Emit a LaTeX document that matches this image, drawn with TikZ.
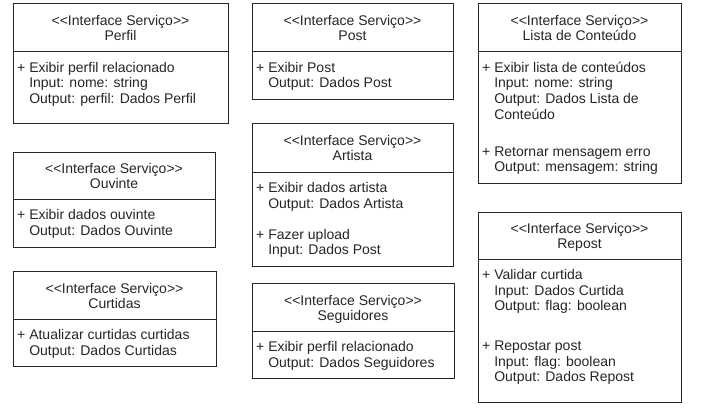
\documentclass[tikz,border=0pt]{standalone}
\usepackage{fontspec}
\setmainfont{Liberation Sans}
\newcommand\ltch{\mbox{<}}
\newcommand\gtch{\mbox{>}}
\newcommand\stereo{\ltch\ltch Interface Serviço\gtch\gtch}
\newcommand\ct{\hphantom{+ }}
\tikzset{
  panel/.style={draw=black!85, line width=1pt, anchor=north west, inner sep=0pt, outer sep=0pt},
  ttl/.style={anchor=base, inner sep=0pt, text=black!85, font=\fontsize{14}{16}\selectfont},
  bodytxt/.style={anchor=base west, inner sep=0pt, text=black!85, font=\fontsize{14}{16}\selectfont}
}
% #1 name, #2 L, #3 T, #4 R, #5 D (divider), #6 B, #7 title
\newcommand\ifbox[7]{%
  \node[panel, minimum width={#4-#2}, minimum height={#5-#3}] (#1h) at (#2,#3) {};
  \node[panel, minimum width={#4-#2}, minimum height={#6-#5}] (#1b) at (#2,#5) {};
  \node[ttl] (#1s) at ([yshift=2pt]#1h.center) {\stereo};
  \node[ttl] (#1n) at ([yshift=-13pt]#1h.center) {#7};
}
\newcommand\bl[4]{\node[bodytxt] (#1) at (#2,#3) {#4};}
\begin{document}
\begin{tikzpicture}[x=1pt,y=-1pt]
\fill[white] (0,0) rectangle (701,412);
\useasboundingbox (0,0) rectangle (701,412);

% Perfil
\ifbox{perfil}{13}{4}{228}{52}{123}{Perfil}
\bl{perfil1}{17}{72.5}{+ Exibir perfil relacionado}
\bl{perfil2}{17}{88}{\ct Input: nome: string}
\bl{perfil3}{17}{103.5}{\ct Output: perfil: Dados Perfil}

% Ouvinte
\ifbox{ouv}{13}{152}{215}{199}{247}{Ouvinte}
\bl{ouv1}{17}{219.5}{+ Exibir dados ouvinte}
\bl{ouv2}{17}{235}{\ct Output: Dados Ouvinte}

% Curtidas
\ifbox{curt}{13}{271}{216}{319}{366}{Curtidas}
\bl{curt1}{17}{339.5}{+ Atualizar curtidas curtidas}
\bl{curt2}{17}{355}{\ct Output: Dados Curtidas}

% Post
\ifbox{post}{252}{4}{453}{52}{99}{Post}
\bl{post1}{256}{72.5}{+ Exibir Post}
\bl{post2}{256}{88}{\ct Output: Dados Post}

% Artista
\ifbox{art}{252}{123}{453}{172}{266}{Artista}
\bl{art1}{256}{192.5}{+ Exibir dados artista}
\bl{art2}{256}{208}{\ct Output: Dados Artista}
\bl{art3}{256}{239}{+ Fazer upload}
\bl{art4}{256}{254.5}{\ct Input: Dados Post}

% Seguidores
\ifbox{seg}{252}{283}{454}{331}{378}{Seguidores}
\bl{seg1}{256}{351.5}{+ Exibir perfil relacionado}
\bl{seg2}{256}{367}{\ct Output: Dados Seguidores}

% Lista de Conteudo
\ifbox{lista}{478}{4}{681}{52}{183}{Lista de Conteúdo}
\bl{lista1}{482}{72.5}{+ Exibir lista de conteúdos}
\bl{lista2}{482}{88}{\ct Input: nome: string}
\bl{lista3}{482}{103.5}{\ct Output: Dados Lista de}
\bl{lista4}{482}{119}{\ct Conteúdo}
\bl{lista5}{482}{156.2}{+ Retornar mensagem erro}
\bl{lista6}{482}{171.7}{\ct Output: mensagem: string}

% Repost
\ifbox{rep}{478}{212}{681}{259}{402}{Repost}
\bl{rep1}{482}{279.5}{+ Validar curtida}
\bl{rep2}{482}{295}{\ct Input: Dados Curtida}
\bl{rep3}{482}{310.5}{\ct Output: flag: boolean}
\bl{rep4}{482}{350.8}{+ Repostar post}
\bl{rep5}{482}{366.3}{\ct Input: flag: boolean}
\bl{rep6}{482}{381.8}{\ct Output: Dados Repost}
\end{tikzpicture}
\end{document}
